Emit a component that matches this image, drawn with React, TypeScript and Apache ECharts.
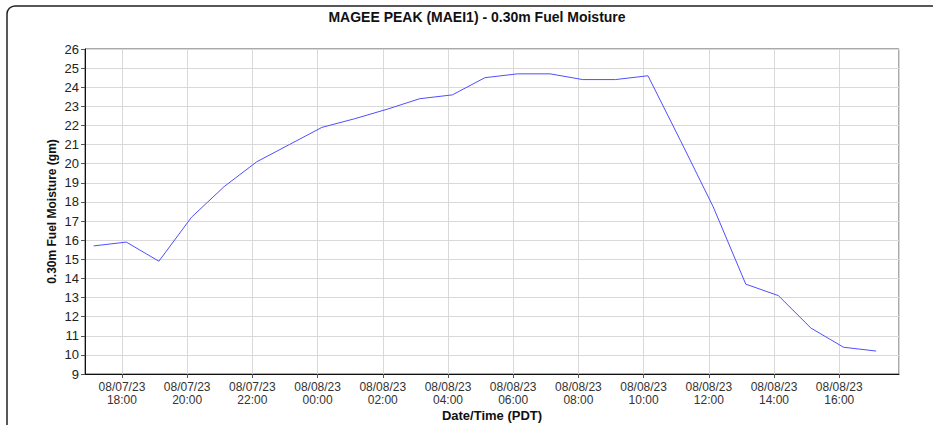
import React, { useEffect, useRef } from "react";
import * as echarts from "echarts";

const times: string[] = [
  "2023-08-07 17:08", "2023-08-07 18:08", "2023-08-07 19:08", "2023-08-07 20:08",
  "2023-08-07 21:08", "2023-08-07 22:08", "2023-08-07 23:08", "2023-08-08 00:08",
  "2023-08-08 01:08", "2023-08-08 02:08", "2023-08-08 03:08", "2023-08-08 04:08",
  "2023-08-08 05:08", "2023-08-08 06:08", "2023-08-08 07:08", "2023-08-08 08:08",
  "2023-08-08 09:08", "2023-08-08 10:08", "2023-08-08 11:08", "2023-08-08 12:08",
  "2023-08-08 13:08", "2023-08-08 14:08", "2023-08-08 15:08", "2023-08-08 16:08",
  "2023-08-08 17:08",
];

const fuelMoisture: number[] = [
  15.7, 15.9, 14.9, 17.2, 18.8, 20.1, 21.0, 21.9,
  22.35, 22.85, 23.4, 23.6, 24.5, 24.7, 24.7, 24.4,
  24.4, 24.6, 21.2, 17.75, 13.7, 13.1, 11.4, 10.4,
  10.2,
];

const axisStart = "2023-08-07 16:52";
const axisEnd = "2023-08-08 17:50";

const titleText = "MAGEE PEAK (MAEI1) - 0.30m Fuel Moisture";
const yAxisTitle = "0.30m Fuel Moisture (gm)";
const xAxisTitle = "Date/Time (PDT)";

function parseLocal(s: string): number {
  const [d, t] = s.split(" ");
  const [y, m, day] = d.split("-").map(Number);
  const [hh, mm] = t.split(":").map(Number);
  return new Date(y, m - 1, day, hh, mm).getTime();
}

const pad = (n: number) => (n < 10 ? "0" + n : "" + n);

export default function App() {
  const ref = useRef<HTMLDivElement>(null);
  useEffect(() => {
    if (!ref.current) return;
    const chart = echarts.init(ref.current, null, { renderer: "svg" });
    const font = "'Liberation Sans', Arial, sans-serif";
    chart.setOption({
      animation: false,
      backgroundColor: "#ffffff",
      graphic: [
        {
          type: "rect",
          shape: { x: 7, y: 6, width: 980, height: 480, r: 8 },
          style: { fill: "none", stroke: "#222", lineWidth: 1.5 },
          silent: true,
        },
        {
          type: "text",
          x: 477,
          y: 10,
          style: {
            text: titleText,
            fontFamily: font,
            fontWeight: "bold",
            fontSize: 14,
            fill: "#111",
            textAlign: "center",
          },
        },
      ],
      grid: {
        left: 85,
        right: 34,
        top: 49,
        bottom: 51,
        outerBoundsMode: "none",
        containLabel: false,
        show: true,
        borderColor: "#555",
        borderWidth: 1,
        backgroundColor: "transparent",
      },
      xAxis: {
        type: "time",
        min: parseLocal(axisStart),
        max: parseLocal(axisEnd),
        splitNumber: 12,
        name: xAxisTitle,
        nameLocation: "middle",
        nameGap: 35,
        nameMoveOverlap: false,
        nameTextStyle: { fontFamily: font, fontWeight: "bold", fontSize: 13, color: "#111" },
        axisLine: { show: true, lineStyle: { color: "#111", width: 1 } },
        axisTick: { show: true, length: 4, lineStyle: { color: "#555" } },
        splitLine: { show: true, lineStyle: { color: "#d9d9d9", width: 1 } },
        axisLabel: {
          fontFamily: font,
          fontSize: 12,
          color: "#333",
          lineHeight: 13,
          margin: 6,
          hideOverlap: false,
          showMinLabel: false,
          showMaxLabel: false,
          formatter: (v: number) => {
            const d = new Date(v);
            return (
              pad(d.getMonth() + 1) + "/" + pad(d.getDate()) + "/" + pad(d.getFullYear() % 100) +
              "\n" + pad(d.getHours()) + ":" + pad(d.getMinutes())
            );
          },
        },
      },
      yAxis: {
        type: "value",
        min: 9,
        max: 26,
        interval: 1,
        name: yAxisTitle,
        nameLocation: "middle",
        nameGap: 27,
        nameMoveOverlap: false,
        nameTextStyle: { fontFamily: font, fontWeight: "bold", fontSize: 12, color: "#111" },
        axisLine: { show: true, lineStyle: { color: "#111", width: 1 } },
        axisTick: { show: true, length: 4, lineStyle: { color: "#555" } },
        splitLine: { show: true, lineStyle: { color: "#d9d9d9", width: 1 } },
        axisLabel: { fontFamily: font, fontSize: 13, color: "#222", margin: 6 },
      },
      series: [
        {
          type: "line",
          data: times.map((t, i) => [parseLocal(t), fuelMoisture[i]]),
          showSymbol: false,
          symbol: "none",
          lineStyle: { color: "#4f4fff", width: 1 },
        },
      ],
    });
    return () => chart.dispose();
  }, []);
  return (
    <div
      ref={ref}
      style={{ position: "absolute", left: 0, top: 0, width: 933, height: 425 }}
    />
  );
}
